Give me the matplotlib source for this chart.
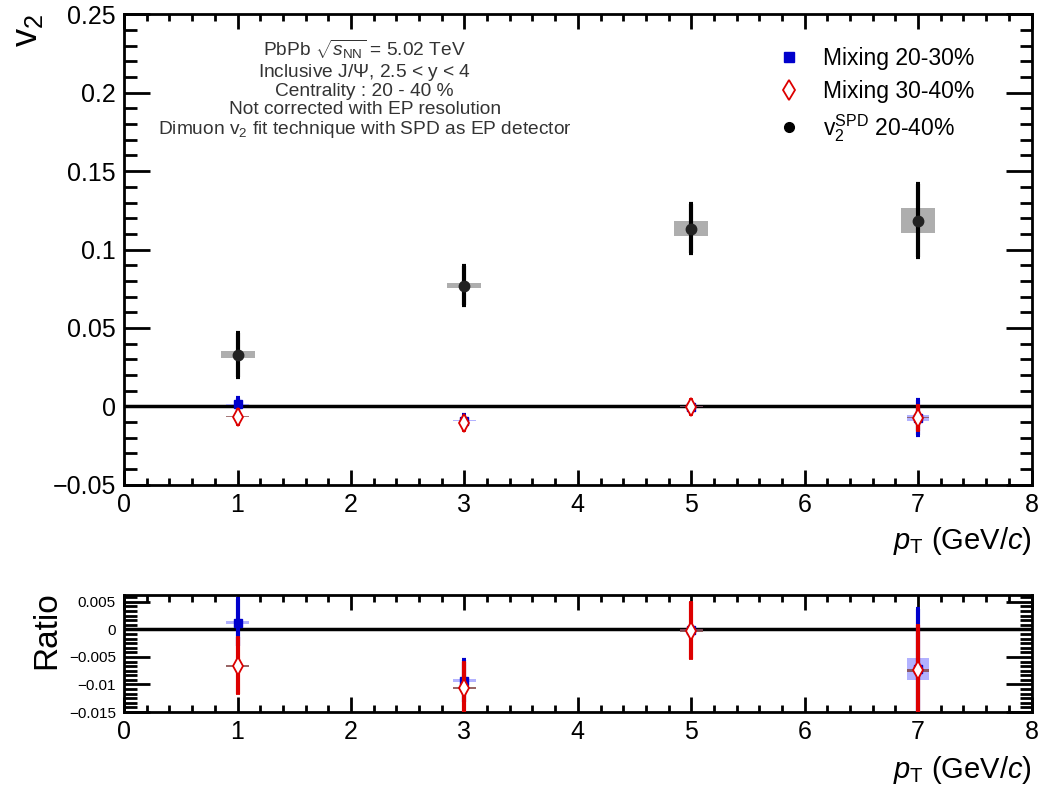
import numpy as np
import matplotlib
matplotlib.use('Agg')
from matplotlib import pyplot as plt
from matplotlib.ticker import MultipleLocator, FuncFormatter
from matplotlib.lines import Line2D

plt.rcParams['font.family'] = ['Liberation Sans', 'DejaVu Sans']
plt.rcParams['mathtext.fontset'] = 'custom'
plt.rcParams['mathtext.rm'] = 'Liberation Sans'
plt.rcParams['mathtext.it'] = 'Liberation Sans:italic'

# datos
pt = np.array([1, 3, 5, 7])
# v2 SPD 20-40%
v2_spd = np.array([0.033, 0.077, 0.1134, 0.1185])
v2_spd_stat = np.array([0.014, 0.0125, 0.0155, 0.0235])
v2_spd_syst = np.array([0.002, 0.0015, 0.0045, 0.008])
# mixing 20-30%
mix1 = np.array([0.0012, -0.0093, -0.0001, -0.0072])
mix1_stat = np.array([0.0043, 0.0038, 0.0005, 0.011])
mix1_syst = np.array([0.0003, 0.0003, 0.0002, 0.002])
# mixing 30-40%
mix2 = np.array([-0.0066, -0.0107, -0.0002, -0.0074])
mix2_stat = np.array([0.0052, 0.0047, 0.0052, 0.0082])
mix2_syst = np.array([0.0002, 0.0002, 0.0002, 0.0003])

blue = '#0000cc'
red = '#dd0000'

# formato con signo menos largo, como ROOT
fmt = FuncFormatter(lambda v, p: ('%g' % round(v, 6)).replace('-', '\u2212'))

fig = plt.figure(figsize=(10.43, 7.96), dpi=100)
ax1 = fig.add_axes([0.119, 0.391, 0.870, 0.591])
ax2 = fig.add_axes([0.119, 0.1055, 0.870, 0.147])


def estilo(ax):
    for s in ax.spines.values():
        s.set_linewidth(2)
    ax.tick_params(which='both', direction='in', top=True, right=True, width=2)
    ax.tick_params(axis='y', which='major', length=19)
    ax.tick_params(axis='y', which='minor', length=9)
    ax.tick_params(axis='x', which='major', length=11)
    ax.tick_params(axis='x', which='minor', length=5)
    ax.tick_params(axis='x', labelsize=18, pad=6)
    ax.xaxis.set_major_locator(MultipleLocator(1))
    ax.xaxis.set_minor_locator(MultipleLocator(0.2))
    ax.set_xlim(0, 8)


def cajas(ax, x, y, ey, dx, color, alpha):
    for xi, yi, ei in zip(x, y, ey):
        ax.add_patch(plt.Rectangle((xi - dx, yi - ei), 2 * dx, 2 * ei,
                                   facecolor=color, edgecolor='none', alpha=alpha, zorder=2))


# panel superior
estilo(ax1)
ax1.set_ylim(-0.05, 0.25)
ax1.yaxis.set_major_locator(MultipleLocator(0.05))
ax1.yaxis.set_minor_locator(MultipleLocator(0.01))
ax1.yaxis.set_major_formatter(fmt)
ax1.tick_params(axis='y', labelsize=18, pad=6)
ax1.axhline(0, color='k', lw=2.5, zorder=1)

cajas(ax1, pt, v2_spd, v2_spd_syst, 0.15, '#a0a0a0', 0.85)
cajas(ax1, pt, mix1, mix1_syst, 0.1, '#8080ff', 0.6)
cajas(ax1, pt, mix2, mix2_syst, 0.1, '#804040', 0.7)
ax1.errorbar(pt, mix1, yerr=mix1_stat, fmt='s', color=blue, ms=6, elinewidth=3,
             capsize=1.5, capthick=3, zorder=4)
ax1.errorbar(pt, mix2, yerr=mix2_stat, fmt='d', color=red, mfc='white', ms=9, mew=1.3,
             elinewidth=3, capsize=1.5, capthick=3, zorder=5)
ax1.errorbar(pt, v2_spd, yerr=v2_spd_stat, fmt='o', color='#222222', ms=7.5, elinewidth=3,
             ecolor='k', capsize=1.5, capthick=3, zorder=6)
ax1.set_ylabel(r'v$_2$', fontsize=26, rotation=90)
ax1.yaxis.set_label_coords(-0.087, 0.966)
ax1.yaxis.label.set_verticalalignment('bottom')
ax1.set_xlabel(r'$p_{\rm T}$ (GeV/$c$)', fontsize=21)
ax1.xaxis.set_label_coords(1.0, -0.085)
ax1.xaxis.label.set_horizontalalignment('right')

handles = [
    Line2D([], [], ls='none', marker='s', color=blue, ms=7),
    Line2D([], [], ls='none', marker='d', color=red, mfc='white', ms=10, mew=1.3),
    Line2D([], [], ls='none', marker='o', color='k', ms=7),
]
labels = ['Mixing 20-30%', 'Mixing 30-40%', r'v$_2^{\rm SPD}$ 20-40%']
ax1.legend(handles, labels, loc='upper left', bbox_to_anchor=(0.705, 0.955), frameon=False,
           fontsize=16.5, handlelength=1.2, handletextpad=0.9, labelspacing=0.42,
           borderpad=0)

ax1.text(0.265, 0.95, r'PbPb $\sqrt{s_{\rm NN}}$ = 5.02 TeV' '\n'
         r'Inclusive J/$\Psi$, 2.5 < y < 4' '\n'
         'Centrality : 20 - 40 %\n'
         'Not corrected with EP resolution\n'
         r'Dimuon v$_2$ fit technique with SPD as EP detector',
         transform=ax1.transAxes, ha='center', va='top', fontsize=13.8,
         color='#333333', linespacing=1.05)

# panel inferior
estilo(ax2)
ax2.set_ylim(-0.015, 0.00625)
ax2.yaxis.set_major_locator(MultipleLocator(0.005))
ax2.yaxis.set_minor_locator(MultipleLocator(0.005 / 6))
ax2.yaxis.set_major_formatter(fmt)
ax2.tick_params(axis='y', labelsize=11, pad=6)
ax2.axhline(0, color='k', lw=2.5, zorder=1)

cajas(ax2, pt, mix1, mix1_syst, 0.1, '#8080ff', 0.6)
cajas(ax2, pt, mix2, mix2_syst, 0.1, '#804040', 0.8)
ax2.errorbar(pt, mix1, yerr=mix1_stat, fmt='s', color=blue, ms=6, elinewidth=3,
             capsize=1.5, capthick=3, zorder=4)
ax2.errorbar(pt, mix2, yerr=mix2_stat, fmt='d', color=red, mfc='white', ms=9, mew=1.3,
             elinewidth=3, capsize=1.5, capthick=3, zorder=5)
ax2.set_ylabel('Ratio', fontsize=24)
ax2.yaxis.set_label_coords(-0.068, 0.70)
ax2.yaxis.label.set_verticalalignment('bottom')
ax2.set_xlabel(r'$p_{\rm T}$ (GeV/$c$)', fontsize=21)
ax2.xaxis.set_label_coords(1.0, -0.36)
ax2.xaxis.label.set_horizontalalignment('right')

fig.savefig('out.png', dpi=100)
